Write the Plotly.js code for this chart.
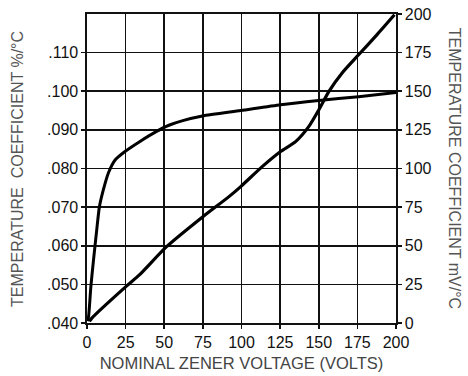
<!DOCTYPE html>
<html>
<head>
<meta charset="utf-8">
<script src="https://cdn.plot.ly/plotly-3.0.1.min.js"></script>
<style>
html,body{margin:0;padding:0;background:#fff;}
#chart{width:468px;height:376px;}
</style>
</head>
<body>
<div id="chart"></div>
<script>
// Temperature coefficient in %/°C (left axis)
var voltsPct = [0.3, 1, 2.5, 4.2, 6.3, 8, 10.6, 13.9, 18.2, 24.6, 34.3, 45, 53, 62, 74.7, 99.5, 125.3, 150, 175.8, 200];
var coefPct  = [0.0405, 0.0416, 0.0494, 0.0563, 0.0641, 0.0700, 0.0745, 0.0789, 0.0822, 0.0844, 0.0870, 0.0896, 0.0912, 0.0924, 0.0936, 0.0950, 0.0965, 0.0976, 0.0986, 0.0997];

// Temperature coefficient in mV/°C (right axis)
var voltsMv = [1.5, 3, 25.7, 33.9, 51.5, 75, 91.9, 99.5, 113.4, 125.3, 135, 143.5, 150, 156.5, 165, 175.8, 187.6, 199];
var coefMv  = [1, 3, 24, 31.1, 49.4, 68.8, 81.8, 88.3, 101.2, 111, 117.4, 127.1, 137.9, 149.8, 161.7, 173.6, 186.5, 199.5];

var xTicks = [0, 25, 50, 75, 100, 125, 150, 175, 200];
var leftTickVals = [0.04, 0.05, 0.06, 0.07, 0.08, 0.09, 0.10, 0.11];
var leftTickText = ['.040', '.050', '.060', '.070', '.080', '.090', '.100', '.110'];
var rightTicks = [0, 25, 50, 75, 100, 125, 150, 175, 200];

var xTitle = 'NOMINAL ZENER VOLTAGE (VOLTS)';
var leftTitle = 'TEMPERATURE  COEFFICIENT %/°C';
var rightTitle = 'TEMPERATURE COEFFICIENT mV/°C';

var traces = [
  {x: voltsPct, y: coefPct, type: 'scatter', mode: 'lines',
   line: {color: '#000', width: 3, shape: 'spline', smoothing: 0.6}, yaxis: 'y', hoverinfo: 'skip'},
  {x: voltsMv, y: coefMv, type: 'scatter', mode: 'lines',
   line: {color: '#000', width: 3.2, shape: 'spline', smoothing: 0.6}, yaxis: 'y2', hoverinfo: 'skip'}
];

var FF = 'Liberation Sans, Arial, sans-serif';
var tickFont = {family: FF, size: 16, color: '#111'};
var titleFont = {family: FF, size: 16, color: '#555'};

var layout = {
  width: 468, height: 376,
  margin: {l: 87, r: 72, t: 14, b: 53},
  paper_bgcolor: '#fff', plot_bgcolor: '#fff',
  showlegend: false,
  font: tickFont,
  xaxis: {
    range: [0, 200], tickvals: xTicks, ticktext: xTicks.map(String),
    showgrid: true, gridcolor: '#111', gridwidth: 1.6,
    showline: true, linecolor: '#111', linewidth: 1.6, mirror: true,
    ticks: 'outside', ticklen: 4, tickcolor: '#111', tickwidth: 1.6,
    zeroline: false, tickfont: tickFont, fixedrange: true,
    automargin: false,
    title: {text: xTitle, standoff: 7, font: {family: FF, size: 16.5, color: '#444'}}
  },
  yaxis: {
    range: [0.04, 0.12], tickvals: leftTickVals, ticktext: leftTickText,
    showgrid: true, gridcolor: '#111', gridwidth: 1.6,
    showline: true, linecolor: '#111', linewidth: 1.6,
    ticks: 'outside', ticklen: 4, tickcolor: '#111', tickwidth: 1.6,
    zeroline: false, tickfont: tickFont, fixedrange: true
  },
  yaxis2: {
    range: [0, 200], tickvals: rightTicks, ticktext: rightTicks.map(String),
    overlaying: 'y', side: 'right', showgrid: false,
    showline: true, linecolor: '#111', linewidth: 1.6,
    ticks: 'outside', ticklen: 4, tickcolor: '#111', tickwidth: 1.6,
    zeroline: false, tickfont: tickFont, fixedrange: true
  },
  annotations: [
    {text: leftTitle, xref: 'paper', yref: 'paper', x: -0.225, y: 0.5,
     xanchor: 'center', yanchor: 'middle', showarrow: false, textangle: -90,
     font: titleFont},
    {text: rightTitle, xref: 'paper', yref: 'paper', x: 1.19, y: 0.5,
     xanchor: 'center', yanchor: 'middle', showarrow: false, textangle: 90,
     font: titleFont}
  ]
};

Plotly.newPlot('chart', traces, layout, {displayModeBar: false, staticPlot: true});
</script>
</body>
</html>
